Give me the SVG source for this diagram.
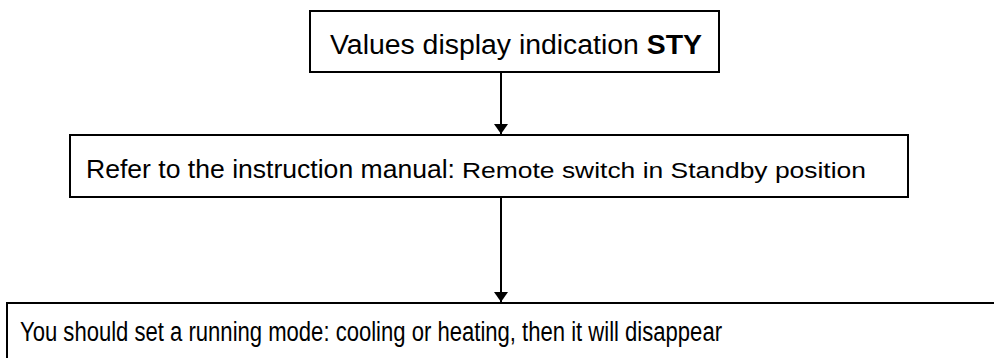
<svg xmlns="http://www.w3.org/2000/svg" width="994" height="358" viewBox="0 0 994 358">
<style>
.box{fill:#fff;stroke:#000;stroke-width:2}
.t{font-family:"Liberation Sans",Arial,sans-serif;fill:#000}
.c{stroke:#000;stroke-width:2;fill:none}
</style>
<defs>
<marker id="ah" markerWidth="12" markerHeight="14" refX="10" refY="7" orient="auto" markerUnits="userSpaceOnUse">
<path d="M0,0 L10,7 L0,14 Z" fill="#000"/>
</marker>
</defs>
<rect width="994" height="358" fill="#fff"/>
<g id="connectors">
<line class="c" x1="501" y1="72" x2="501" y2="134" marker-end="url(#ah)"/>
<line class="c" x1="501" y1="197" x2="501" y2="302" marker-end="url(#ah)"/>
</g>
<g id="n1">
<rect class="box" x="310" y="11" width="409" height="61"/>
<text class="t" x="330" y="54" font-size="27" textLength="372" lengthAdjust="spacingAndGlyphs">Values display indication <tspan font-weight="bold">STY</tspan></text>
</g>
<g id="n2">
<rect class="box" x="70" y="135" width="838" height="62"/>
<text class="t" x="86" y="178" font-size="26" textLength="369" lengthAdjust="spacingAndGlyphs">Refer to the instruction manual:</text>
<text class="t" x="462" y="178" font-size="22" textLength="404" lengthAdjust="spacingAndGlyphs">Remote switch in Standby position</text>
</g>
<g id="n3">
<rect class="box" x="7" y="303" width="1000" height="70"/>
<text class="t" x="20" y="341" font-size="27" textLength="702" lengthAdjust="spacingAndGlyphs">You should set a running mode: cooling or heating, then it will disappear</text>
</g>
</svg>
